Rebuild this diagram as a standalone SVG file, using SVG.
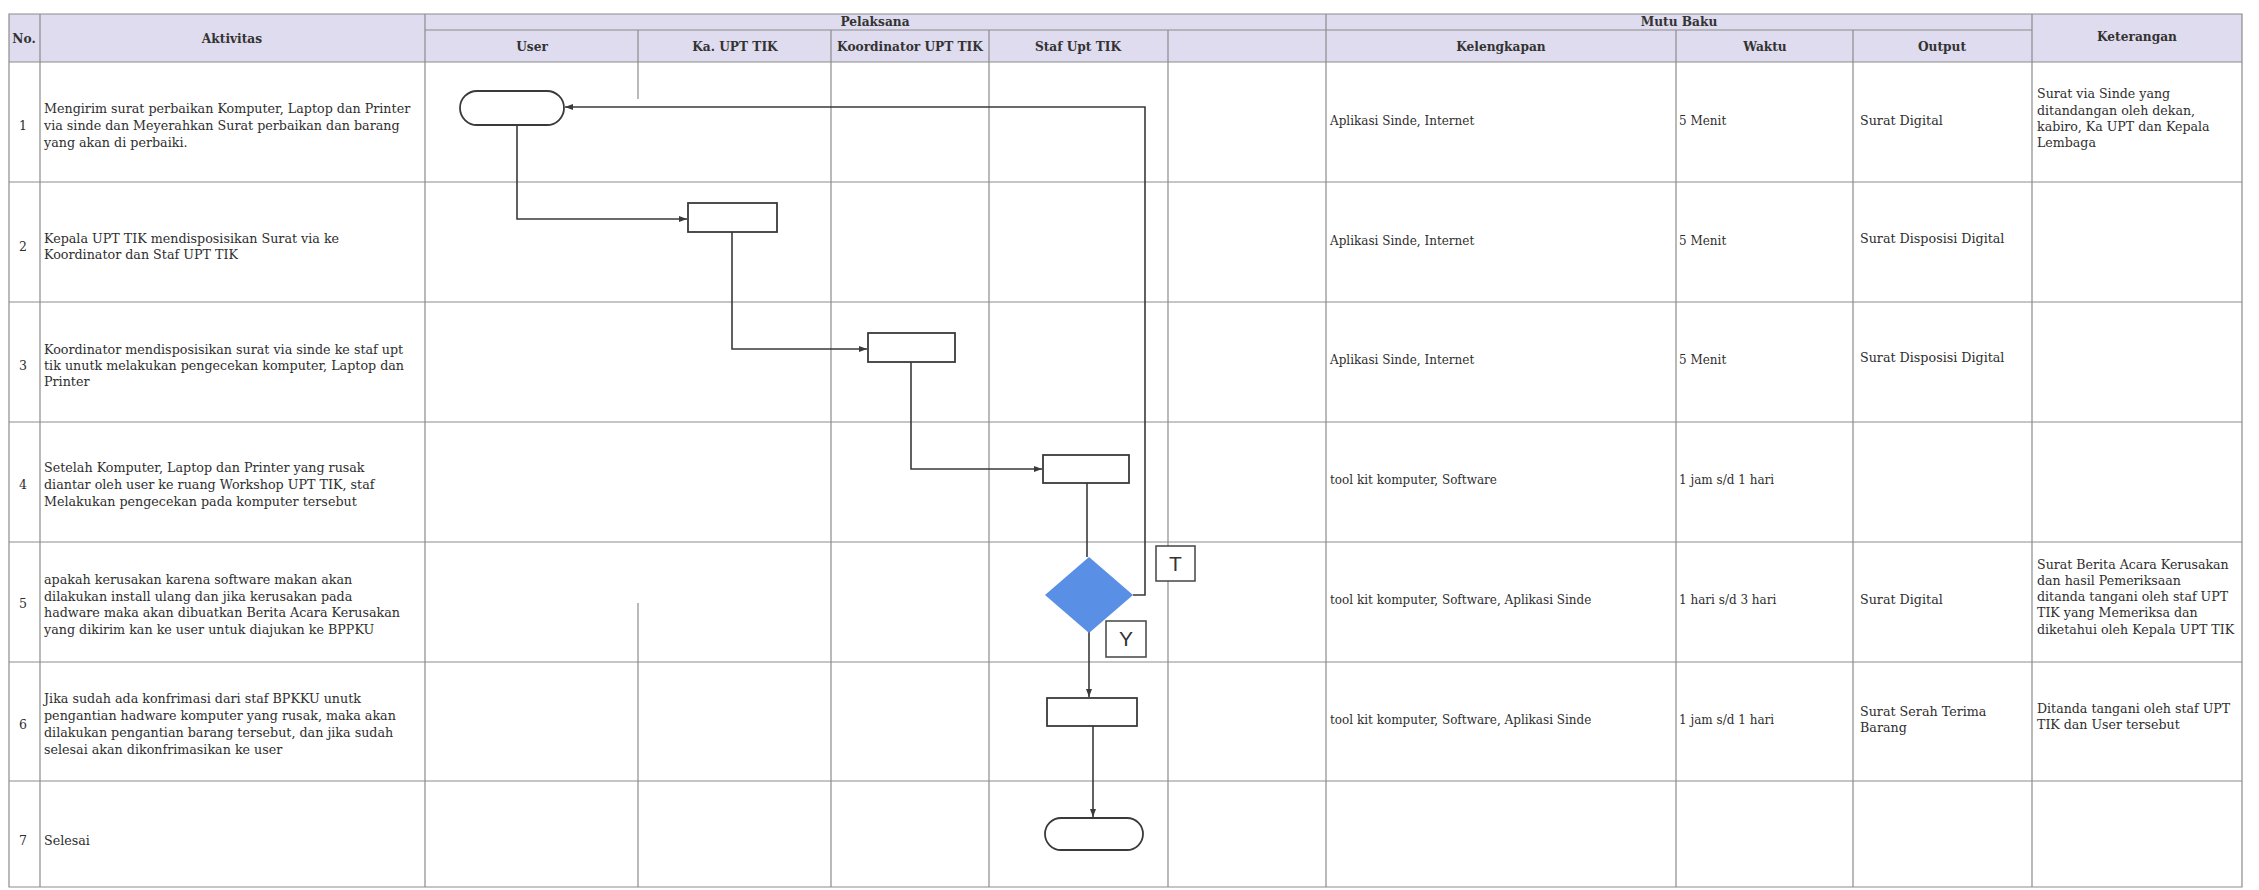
<svg xmlns="http://www.w3.org/2000/svg" width="2259" height="890" viewBox="0 0 2259 890">
<defs>
<style>
.grid{stroke:#8c8c8c;stroke-width:1.2;fill:none}
.hdr{fill:#dfdcef}
.ht{font-family:"DejaVu Serif","Liberation Serif",serif;font-weight:bold;font-size:12.2px;fill:#333;text-anchor:middle}
.t{font-family:"DejaVu Serif","Liberation Serif",serif;font-size:12.7px;fill:#2e2e2e}
.s{font-size:12px}
.k{font-size:12.6px}
.num{font-family:"DejaVu Serif","Liberation Serif",serif;font-size:12.5px;fill:#2e2e2e;text-anchor:middle}
.node{fill:#fff;stroke:#3a3a3a;stroke-width:1.8}
.con{fill:none;stroke:#3a3a3a;stroke-width:1.6}
.lbl{fill:#fff;stroke:#444;stroke-width:1.5}
.lt{font-family:"Liberation Sans",Arial,sans-serif;font-size:21px;fill:#333;text-anchor:middle}
</style>
<marker id="arr" markerUnits="userSpaceOnUse" markerWidth="8" markerHeight="6" refX="8" refY="3" orient="auto">
<path d="M0,0 L8,3 L0,6 z" fill="#3a3a3a"/>
</marker>
</defs>
<rect width="2259" height="890" fill="#fff"/>
<g id="table">
<rect class="hdr" x="9" y="14" width="2233" height="48"/>
<path class="grid" d="M9,14 H2242 V887 H9 Z"/>
<path class="grid" d="M425,30 H2032 M9,62 H2242 M9,182 H2242 M9,302 H2242 M9,422 H2242 M9,542 H2242 M9,662 H2242 M9,781 H2242"/>
<path class="grid" d="M40,14 V887 M425,14 V887 M638,30 V99 M638,603 V887 M831,30 V887 M989,30 V887 M1168,30 V887 M1326,14 V887 M1676,30 V887 M1853,30 V887 M2032,14 V887"/>
<text class="ht" x="24" y="43">No.</text>
<text class="ht" x="232" y="43">Aktivitas</text>
<text class="ht" x="875" y="26">Pelaksana</text>
<text class="ht" x="532" y="51">User</text>
<text class="ht" x="735" y="51">Ka. UPT TIK</text>
<text class="ht" x="910" y="51">Koordinator UPT TIK</text>
<text class="ht" x="1078" y="51">Staf Upt TIK</text>
<text class="ht" x="1679" y="26">Mutu Baku</text>
<text class="ht" x="1501" y="51">Kelengkapan</text>
<text class="ht" x="1765" y="51">Waktu</text>
<text class="ht" x="1942" y="51">Output</text>
<text class="ht" x="2137" y="41">Keterangan</text>
</g>
<g id="rows">
<text class="num" x="23" y="130">1</text>
<text class="t" x="44" y="113">Mengirim surat perbaikan Komputer, Laptop dan Printer</text>
<text class="t" x="44" y="130">via sinde dan Meyerahkan Surat perbaikan dan barang</text>
<text class="t" x="44" y="147">yang akan di perbaiki.</text>
<text class="t s" x="1330" y="125">Aplikasi Sinde, Internet</text>
<text class="t s" x="1679" y="125">5 Menit</text>
<text class="t" x="1860" y="125">Surat Digital</text>
<text class="t k" x="2037" y="98">Surat via Sinde yang</text>
<text class="t k" x="2037" y="115">ditandangan oleh dekan,</text>
<text class="t k" x="2037" y="131">kabiro, Ka UPT dan Kepala</text>
<text class="t k" x="2037" y="147">Lembaga</text>

<text class="num" x="23" y="251">2</text>
<text class="t" x="44" y="243">Kepala UPT TIK mendisposisikan Surat via ke</text>
<text class="t" x="44" y="259">Koordinator dan Staf UPT TIK</text>
<text class="t s" x="1330" y="245">Aplikasi Sinde, Internet</text>
<text class="t s" x="1679" y="245">5 Menit</text>
<text class="t" x="1860" y="243">Surat Disposisi Digital</text>

<text class="num" x="23" y="370">3</text>
<text class="t" x="44" y="354">Koordinator mendisposisikan surat via sinde ke staf upt</text>
<text class="t" x="44" y="370">tik unutk melakukan pengecekan komputer, Laptop dan</text>
<text class="t" x="44" y="386">Printer</text>
<text class="t s" x="1330" y="364">Aplikasi Sinde, Internet</text>
<text class="t s" x="1679" y="364">5 Menit</text>
<text class="t" x="1860" y="362">Surat Disposisi Digital</text>

<text class="num" x="23" y="489">4</text>
<text class="t" x="44" y="472">Setelah Komputer, Laptop dan Printer yang rusak</text>
<text class="t" x="44" y="489">diantar oleh user ke ruang Workshop UPT TIK, staf</text>
<text class="t" x="44" y="506">Melakukan pengecekan pada komputer tersebut</text>
<text class="t s" x="1330" y="484">tool kit komputer, Software</text>
<text class="t s" x="1679" y="484">1 jam s/d 1 hari</text>

<text class="num" x="23" y="608">5</text>
<text class="t" x="44" y="584">apakah kerusakan karena software makan akan</text>
<text class="t" x="44" y="601">dilakukan install ulang dan jika kerusakan pada</text>
<text class="t" x="44" y="617">hadware maka akan dibuatkan Berita Acara Kerusakan</text>
<text class="t" x="44" y="634">yang dikirim kan ke user untuk diajukan ke BPPKU</text>
<text class="t s" x="1330" y="604">tool kit komputer, Software, Aplikasi Sinde</text>
<text class="t s" x="1679" y="604">1 hari s/d 3 hari</text>
<text class="t" x="1860" y="604">Surat Digital</text>
<text class="t k" x="2037" y="569">Surat Berita Acara Kerusakan</text>
<text class="t k" x="2037" y="585">dan hasil Pemeriksaan</text>
<text class="t k" x="2037" y="601">ditanda tangani oleh staf UPT</text>
<text class="t k" x="2037" y="617">TIK yang Memeriksa dan</text>
<text class="t k" x="2037" y="634">diketahui oleh Kepala UPT TIK</text>

<text class="num" x="23" y="729">6</text>
<text class="t" x="44" y="703">Jika sudah ada konfrimasi dari staf BPKKU unutk</text>
<text class="t" x="44" y="720">pengantian hadware komputer yang rusak, maka akan</text>
<text class="t" x="44" y="737">dilakukan pengantian barang tersebut, dan jika sudah</text>
<text class="t" x="44" y="754">selesai akan dikonfrimasikan ke user</text>
<text class="t s" x="1330" y="724">tool kit komputer, Software, Aplikasi Sinde</text>
<text class="t s" x="1679" y="724">1 jam s/d 1 hari</text>
<text class="t" x="1860" y="716">Surat Serah Terima</text>
<text class="t" x="1860" y="732">Barang</text>
<text class="t k" x="2037" y="713">Ditanda tangani oleh staf UPT</text>
<text class="t k" x="2037" y="729">TIK dan User tersebut</text>

<text class="num" x="23" y="845">7</text>
<text class="t" x="44" y="845">Selesai</text>
</g>
<g id="connectors">
<path class="con" d="M517,126 V219 H687" marker-end="url(#arr)"/>
<path class="con" d="M732,232 V349 H867" marker-end="url(#arr)"/>
<path class="con" d="M911,362 V469 H1042" marker-end="url(#arr)"/>
<path class="con" d="M1087,483 V557"/>
<path class="con" d="M1133,595 H1145 V107 H565" marker-end="url(#arr)"/>
<path class="con" d="M1089,632 V697" marker-end="url(#arr)"/>
<path class="con" d="M1093,726 V817" marker-end="url(#arr)"/>
</g>
<g id="n-start"><rect class="node" x="460" y="91" width="104" height="34" rx="17"/></g>
<g id="n-ka"><rect class="node" x="688" y="203" width="89" height="29"/></g>
<g id="n-koor"><rect class="node" x="868" y="333" width="87" height="29"/></g>
<g id="n-staf"><rect class="node" x="1043" y="455" width="86" height="28"/></g>
<g id="n-decision"><path d="M1089,557 L1133,595 L1089,633 L1045,595 Z" fill="#5a8fe6"/></g>
<g id="n-ganti"><rect class="node" x="1047" y="698" width="90" height="28"/></g>
<g id="n-end"><rect class="node" x="1045" y="818" width="98" height="32" rx="16"/></g>
<g id="lbl-T"><rect class="lbl" x="1156" y="546" width="39" height="35"/><text class="lt" x="1175.5" y="571">T</text></g>
<g id="lbl-Y"><rect class="lbl" x="1106" y="621" width="40" height="36"/><text class="lt" x="1126" y="646">Y</text></g>
</svg>
